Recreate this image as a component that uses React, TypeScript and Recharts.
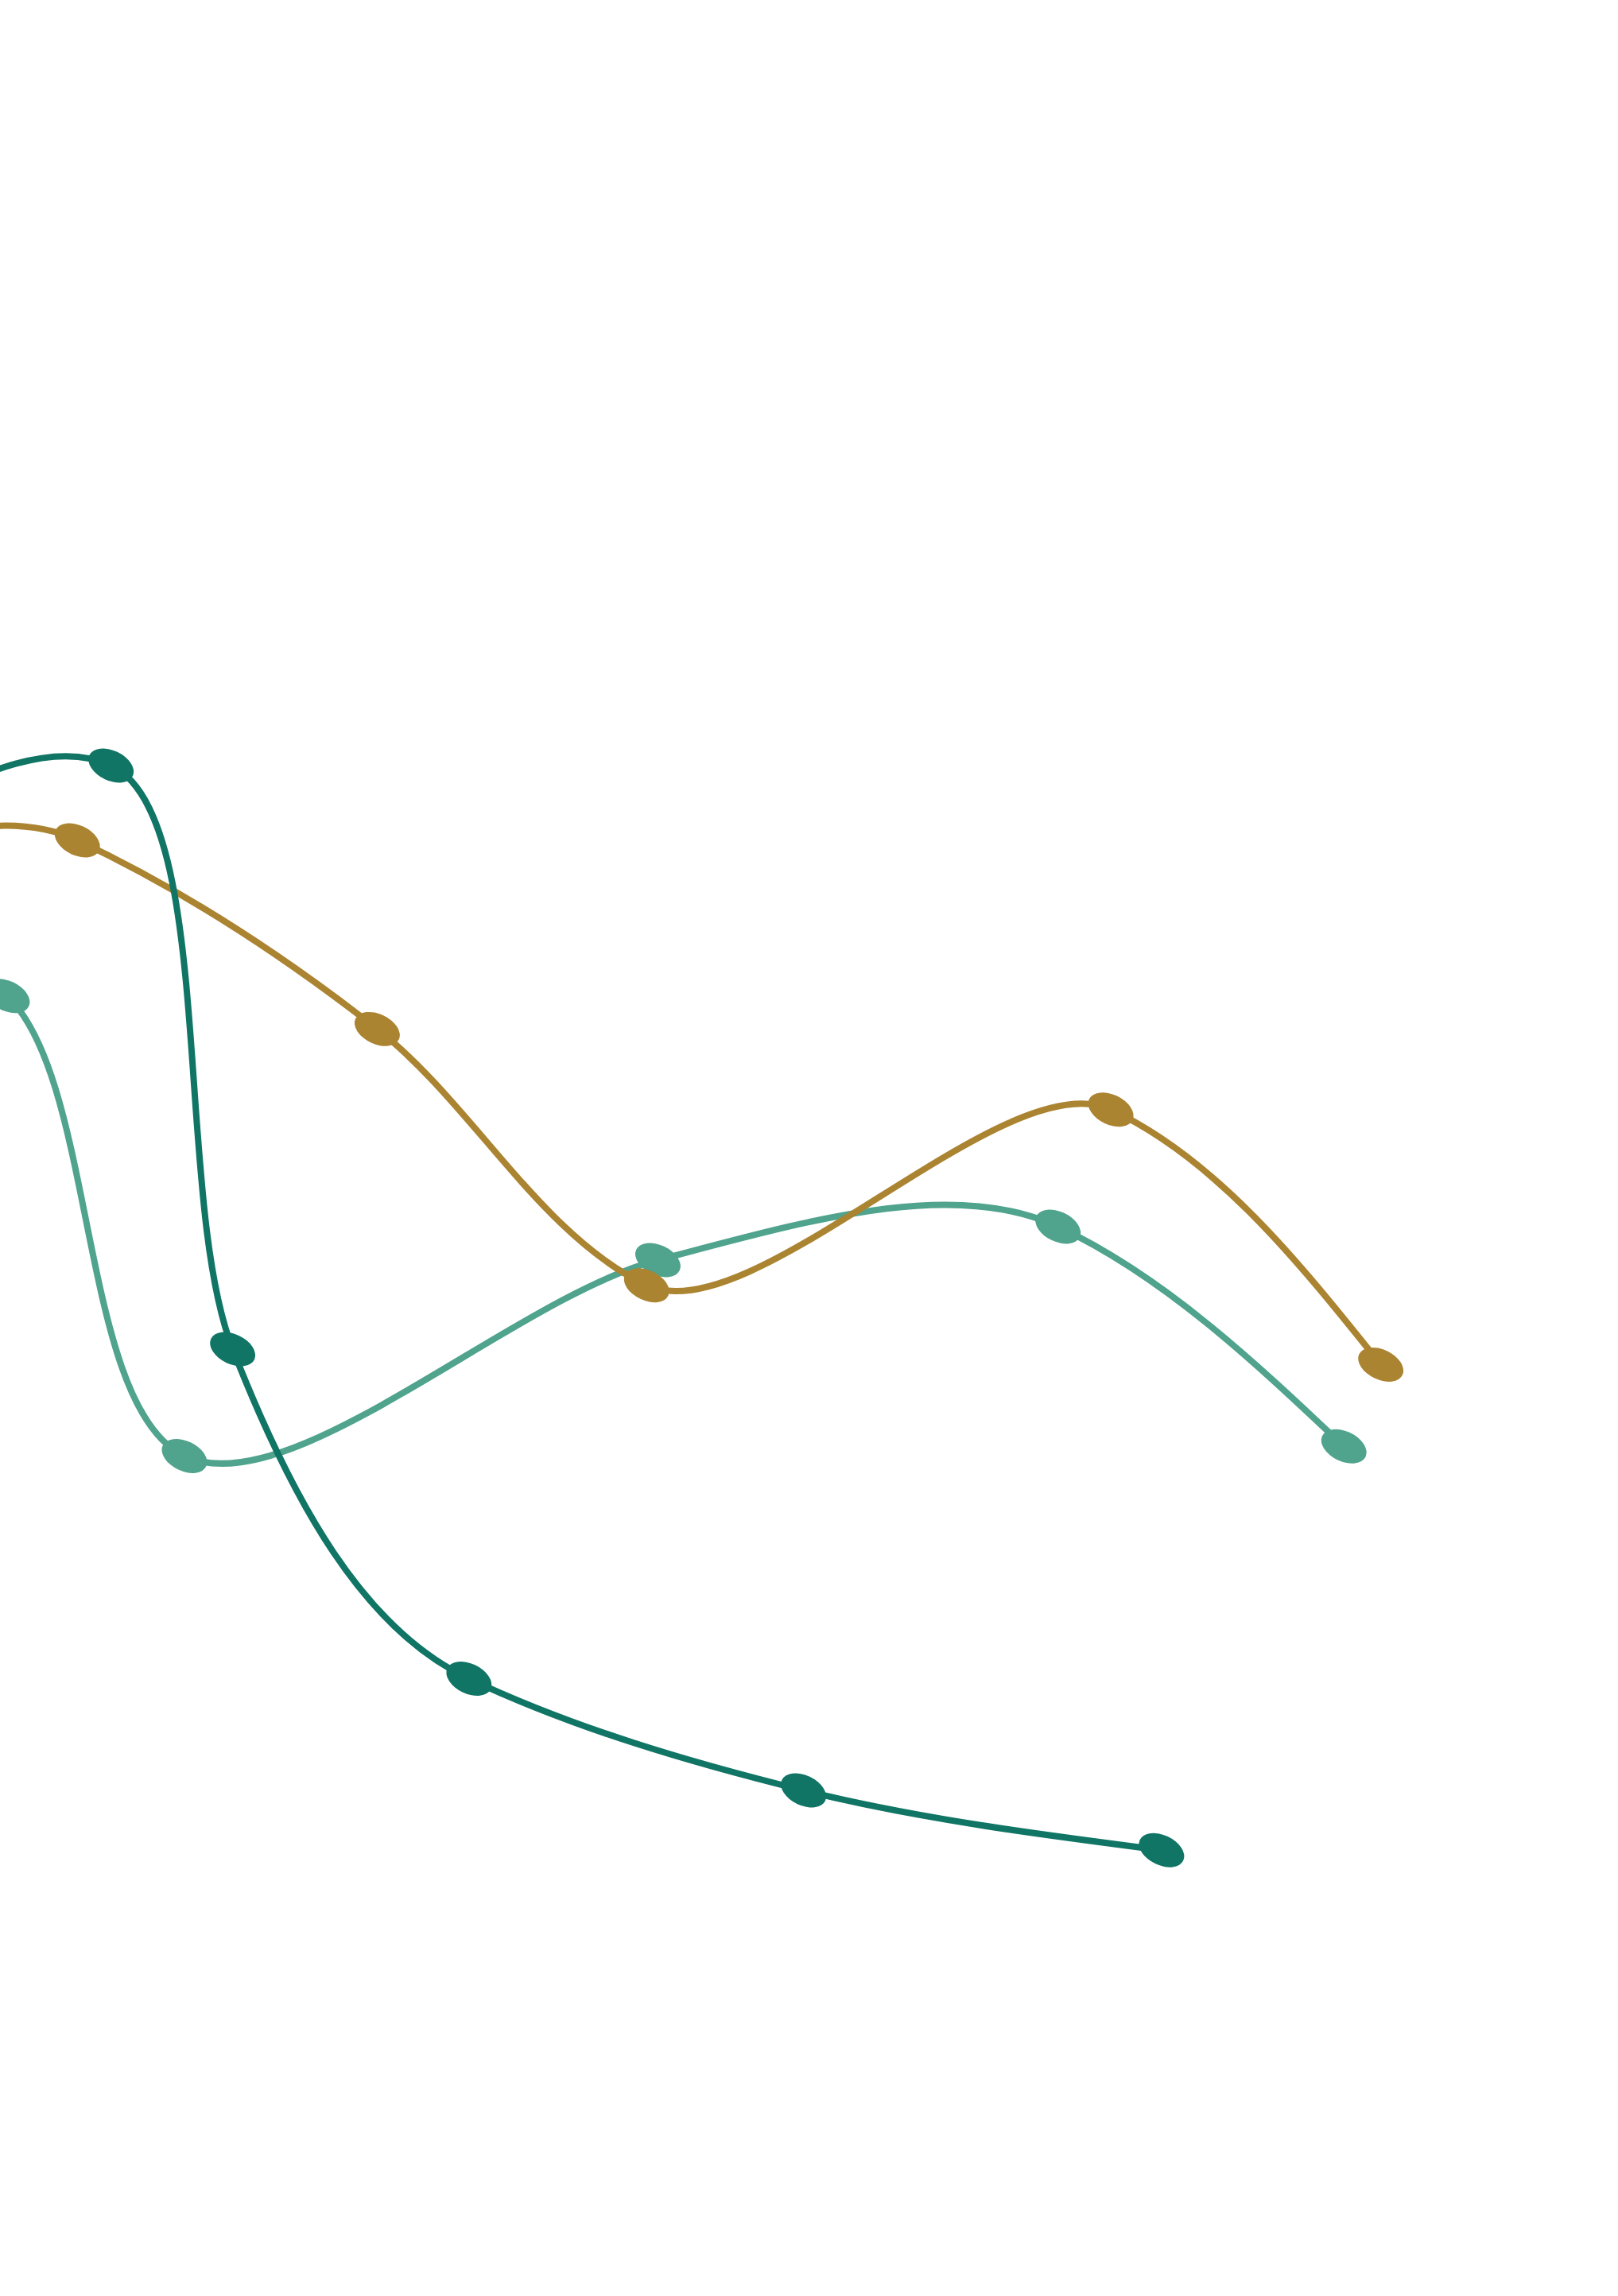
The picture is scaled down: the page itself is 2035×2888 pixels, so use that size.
import React from 'react';
import { LineChart, Line, XAxis, YAxis } from 'recharts';

const categories = [0, 1, 2, 3, 4, 5];
const darkValues = [37.25, 65.92, 35.75, 23.23, 25.84, 32.06];
const goldValues = [41.86, 60.73, 57.99, 50.56, 73.13, 65.79];
const lightValues = [53.6, 49.92, 28.33, 52.31, 65.0, 60.11];

const COLORS = { dark: '#107565', gold: '#ab8432', light: '#50a38c' };

const data = categories.map((c, i) => ({
  x: c,
  dark: darkValues[i],
  gold: goldValues[i],
  light: lightValues[i],
}));

const css = `
.oblique-chart .recharts-surface > g {
  transform: matrix(1, 0.47, -0.283, 0.627, 0, 149.3);
  transform-origin: 0 0;
  transform-box: view-box;
}
.oblique-chart .recharts-line-curve {
  vector-effect: non-scaling-stroke;
}
`;

const makeDot = (color: string) => (props: any) => {
  const { cx, cy, index } = props;
  if (cx == null || cy == null) return <g key={index} />;
  return <circle key={index} cx={cx} cy={cy} r={27.4} fill={color} stroke="none" />;
};

export default function App() {
  return (
    <div
      className="oblique-chart"
      style={{ position: 'absolute', left: 0, top: 0, width: 2035, height: 2888, background: '#fff' }}
    >
      <style>{css}</style>
      <LineChart
        width={2035}
        height={2888}
        data={data}
        margin={{ top: 0, right: 18.75, bottom: 0, left: 18.75 }}
      >
        <XAxis type="number" dataKey="x" domain={[0, 5]} hide />
        <YAxis type="number" domain={[0, 100]} hide />
        <Line
          dataKey="light"
          type="monotone"
          stroke={COLORS.light}
          strokeWidth={8}
          dot={makeDot(COLORS.light)}
          activeDot={false}
          isAnimationActive={false}
        />
        <Line
          dataKey="gold"
          type="monotone"
          stroke={COLORS.gold}
          strokeWidth={8}
          dot={makeDot(COLORS.gold)}
          activeDot={false}
          isAnimationActive={false}
        />
        <Line
          dataKey="dark"
          type="monotone"
          stroke={COLORS.dark}
          strokeWidth={8}
          dot={makeDot(COLORS.dark)}
          activeDot={false}
          isAnimationActive={false}
        />
      </LineChart>
    </div>
  );
}
